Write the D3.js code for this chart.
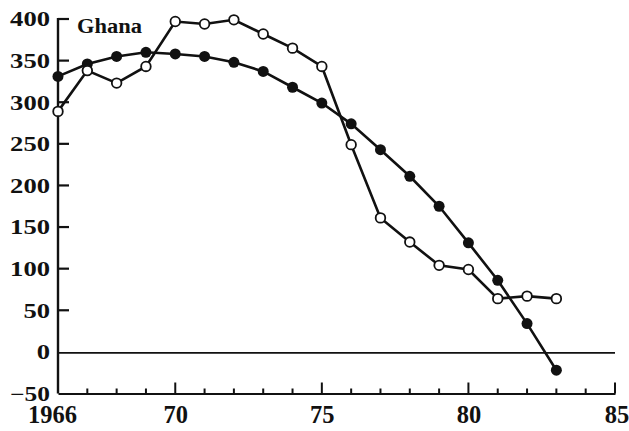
<!DOCTYPE html>
<html><head><meta charset="utf-8">
<script src="https://cdn.jsdelivr.net/npm/d3@7"></script>
<style>body{margin:0;background:#fff}svg{display:block}</style>
</head><body>
<svg id="c" width="629" height="431"></svg>
<script>
const years = [1966,1967,1968,1969,1970,1971,1972,1973,1974,1975,1976,1977,1978,1979,1980,1981,1982,1983];
const filledValues = [331,346,355,360,358,355,348,337,318,299,274,243,211,175,131,86,34,-22];
const openValues = [289,338,323,343,397,394,399,382,365,343,249,161,132,104,99,64,67,64];
const yTicks = [-50,0,50,100,150,200,250,300,350,400];
const xTickYears = d3.range(1966,1986);
const xLabels = {1966:"1966",1970:"70",1975:"75",1980:"80",1985:"85"};
const title = "Ghana";

const svg = d3.select("#c");
const x = d3.scaleLinear().domain([1966,1985]).range([58,615]);
const y = d3.scaleLinear().domain([-50,400]).range([393.5,19]);
const serif = "Liberation Serif";
const ink = "#111";

// y axis (labels)
const gy = svg.append("g").attr("transform","translate(58,0)")
  .call(d3.axisLeft(y).tickValues(yTicks).tickSize(0).tickPadding(8)
    .tickFormat(d => d < 0 ? "\u221250" : String(d)));
gy.select(".domain").remove();
gy.selectAll(".tick text").attr("font-family",serif).attr("font-size",20).attr("font-weight","bold")
  .attr("fill",ink).attr("dy","0.34em").attr("x",-8)
  .attr("textLength", d => 13.3*String(d).length).attr("lengthAdjust","spacingAndGlyphs");

// y axis line and inward ticks
svg.append("line").attr("x1",x(1966)).attr("x2",x(1966)).attr("y1",y(400)-1).attr("y2",y(-50))
  .attr("stroke",ink).attr("stroke-width",2.4);
svg.append("g").selectAll("line").data(yTicks.filter(d => d > 0)).join("line")
  .attr("x1",x(1966)).attr("x2",x(1966)+11).attr("y1",d=>y(d)).attr("y2",d=>y(d))
  .attr("stroke",ink).attr("stroke-width",2.2);

// x axis (labels + domain)
const gx = svg.append("g").attr("transform","translate(0,393.5)")
  .call(d3.axisBottom(x).tickValues(xTickYears).tickSize(0).tickPadding(0)
    .tickFormat(d => xLabels[d] || ""));
gx.select(".domain").attr("stroke",ink).attr("stroke-width",2.2);
gx.selectAll(".tick text").attr("font-family",serif).attr("font-size",24.5).attr("font-weight","bold")
  .attr("fill",ink).attr("y",29).attr("dy",0)
  .attr("dx", d => d === 1966 ? -6 : (d===1985 ? 1.5 : 0));

// x inward ticks
svg.append("g").selectAll("line").data(xTickYears.filter(d => d > 1966)).join("line")
  .attr("x1",d=>x(d)).attr("x2",d=>x(d)).attr("y1",393.5)
  .attr("y2", d => 393.5 - ((d % 5 === 0) ? 11 : 5))
  .attr("stroke",ink).attr("stroke-width",2);

// zero line
svg.append("line").attr("x1",x(1966)).attr("x2",x(1985)).attr("y1",y(0)+1).attr("y2",y(0)+1)
  .attr("stroke",ink).attr("stroke-width",1.6);

// title
svg.append("text").attr("x",77).attr("y",33).attr("font-family",serif).attr("font-size",20)
  .attr("font-weight","bold").attr("fill",ink)
  .attr("textLength",65).attr("lengthAdjust","spacingAndGlyphs").text(title);

const line = d3.line().x(d => x(d[0])).y(d => y(d[1]));
const filled = years.map((yr,i) => [yr, filledValues[i]]);
const open = years.map((yr,i) => [yr, openValues[i]]);

svg.append("path").datum(filled).attr("d",line).attr("fill","none").attr("stroke",ink).attr("stroke-width",2.6);
svg.append("path").datum(open).attr("d",line).attr("fill","none").attr("stroke",ink).attr("stroke-width",2.6);

svg.append("g").selectAll("circle").data(filled).join("circle")
  .attr("cx",d=>x(d[0])).attr("cy",d=>y(d[1])).attr("r",5.5).attr("fill",ink);
svg.append("g").selectAll("circle").data(open).join("circle")
  .attr("cx",d=>x(d[0])).attr("cy",d=>y(d[1])).attr("r",4.8).attr("fill","#fff")
  .attr("stroke",ink).attr("stroke-width",1.8);
</script>
</body></html>
